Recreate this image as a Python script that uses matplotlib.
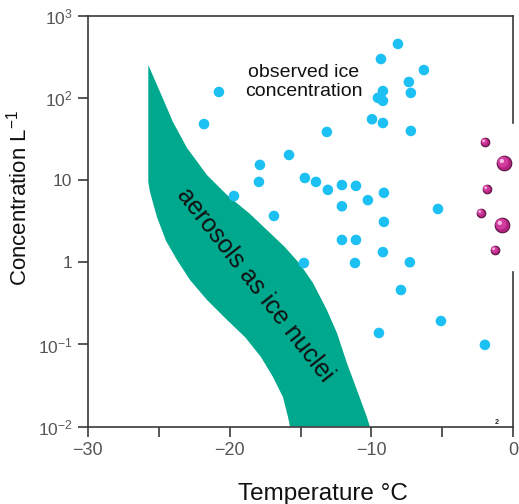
import matplotlib
matplotlib.use('Agg')
import matplotlib.pyplot as plt
from matplotlib.markers import MarkerStyle
from matplotlib.path import Path
import numpy as np

plt.rcParams['font.family'] = ['Liberation Sans', 'DejaVu Sans']
plt.rcParams['mathtext.fontset'] = 'custom'
plt.rcParams['mathtext.rm'] = 'Liberation Sans'
plt.rcParams['mathtext.it'] = 'Liberation Sans:italic'
plt.rcParams['mathtext.bf'] = 'Liberation Sans:bold'

# observed ice concentration (blue dots): temperature (C), concentration (1/L)
obs_temp = [-8.13, -9.33, -6.30, -7.36, -7.22, -9.19, -9.54, -9.19, -9.96, -9.19,
            -7.22, -13.14, -15.81, -17.86, -17.93, -19.69, -14.69, -13.91, -13.07,
            -12.08, -11.09, -10.25, -9.12, -12.08, -16.87, -5.31, -9.12, -12.08,
            -11.09, -9.19, -14.76, -11.16, -7.29, -7.92, -5.10, -9.47, -2.00,
            -20.75, -21.80]
obs_conc = [453, 297, 218, 156, 115, 121, 100, 92, 55, 49.5,
            39.6, 38.5, 20.2, 15.3, 9.5, 6.4, 10.6, 9.5, 7.6,
            8.7, 8.5, 5.7, 7.0, 4.8, 3.66, 4.45, 3.1, 1.87,
            1.87, 1.33, 0.98, 0.98, 1.0, 0.46, 0.193, 0.138, 0.099,
            118, 48]

# magenta spheres, two sizes
mag_small_temp = [-2.00, -1.86, -2.28, -1.30]
mag_small_conc = [29, 7.8, 4.0, 1.41]
mag_large_temp = [-0.66, -0.80]
mag_large_conc = [16.1, 2.84]

# aerosol ice-nuclei band, upper/right edge and lower/left edge
band_upper_temp = [-25.73, -24.90, -23.99, -23.00, -21.59, -20.18, -18.56, -17.29,
                   -16.10, -15.04, -14.12, -13.14, -12.43, -11.73, -11.02, -10.32,
                   -10.11]
band_upper_conc = [251, 118, 50.9, 24.6, 11.5, 6.59, 3.87, 2.40,
                   1.53, 0.953, 0.560, 0.263, 0.138, 0.0596, 0.0279, 0.0131,
                   0.01]
band_lower_temp = [-25.73, -25.61, -25.12, -24.48, -23.71, -22.79, -21.59, -20.18,
                   -18.91, -17.79, -16.94, -16.24, -15.88, -15.74]
band_lower_conc = [9.49, 7.16, 3.56, 1.82, 1.07, 0.609, 0.348, 0.199,
                   0.123, 0.0705, 0.0403, 0.0230, 0.0131, 0.01]

xticks = [-30, -25, -20, -15, -10, -5, 0]
xticklabels = ['\u221230', '', '\u221220', '', '\u221210', '', '0']
yticks = [1e-2, 1e-1, 1, 10, 100, 1000]
yticklabels = [r'$10^{-2}$', r'$10^{-1}$', '1', '10', r'$10^{2}$', r'$10^{3}$']

green = '#00a88e'
blue = '#1cc0f2'
axis_col = '#3a3a3a'
tick_col = '#555555'

fig = plt.figure(figsize=(5.19, 5.04), dpi=100)
ax = fig.add_axes([0.169, 0.1534, 0.820, 0.8155])
ax.set_yscale('log')
ax.set_xlim(-30, 0)
ax.set_ylim(1e-2, 1e3)

band_t = np.concatenate([band_upper_temp, band_lower_temp[::-1]])
band_c = np.concatenate([band_upper_conc, band_lower_conc[::-1]])
ax.fill(band_t, band_c, color=green, lw=0, zorder=1)

ax.scatter(obs_temp, obs_conc, s=58, color=blue, edgecolors='none', zorder=3)

# shaded spheres: dark rim, body, off-centre highlight
glint = MarkerStyle(Path.circle(center=(-0.32, 0.32), radius=0.33))
body = MarkerStyle(Path.circle(center=(-0.08, 0.08), radius=0.42))
for temps, concs, size in [(mag_small_temp, mag_small_conc, 38),
                           (mag_large_temp, mag_large_conc, 110)]:
    ax.scatter(temps, concs, s=size, color='#b3237f', edgecolors='#5a1442',
               linewidths=0.8, zorder=4)
    ax.scatter(temps, concs, s=size * 0.8, marker=body, color='#d23c9e',
               edgecolors='none', zorder=5)
    ax.scatter(temps, concs, s=size * 0.35, marker=glint, color='#f5bfe4',
               edgecolors='none', zorder=6)

ax.text(-14.76, 156, 'observed ice\nconcentration', ha='center', va='center',
        fontsize=14, linespacing=1.15, color='#111111', zorder=7)
ax.text(-18.2, 0.53, 'aerosols as ice nuclei', ha='center', va='center',
        rotation=-52, rotation_mode='anchor', fontsize=18, color='#111111',
        zorder=7)
ax.text(-1.16, 0.0102, '2', ha='center', va='bottom', fontsize=5,
        fontweight='bold', color='#222222', zorder=7)

ax.set_xticks(xticks)
ax.set_xticklabels(xticklabels)
ax.set_yticks(yticks)
ax.set_yticklabels(yticklabels)
ax.yaxis.set_minor_locator(matplotlib.ticker.NullLocator())
ax.tick_params(direction='out', length=7, width=1.2, color=axis_col,
               labelcolor=tick_col, labelsize=13, pad=4)
ax.tick_params(axis='y', labelsize=12.5)

for side in ['left', 'bottom', 'top']:
    ax.spines[side].set_color(axis_col)
    ax.spines[side].set_linewidth(1.2)
ax.spines['right'].set_visible(False)
# right frame is broken where the spheres sit
for y0, y1 in [(0.0, 0.376), (0.739, 1.0)]:
    ax.plot([1, 1], [y0, y1], transform=ax.transAxes, color=axis_col, lw=1.2,
            clip_on=False, zorder=8)

ax.set_xlabel('Temperature \u00b0C', fontsize=17.5, color='#111111')
ax.xaxis.set_label_coords(0.553, -0.137)
ax.set_ylabel('Concentration L$^{-1}$', fontsize=16, color='#111111')
ax.yaxis.set_label_coords(-0.131, 0.556)

fig.savefig('out.png', dpi=100)
